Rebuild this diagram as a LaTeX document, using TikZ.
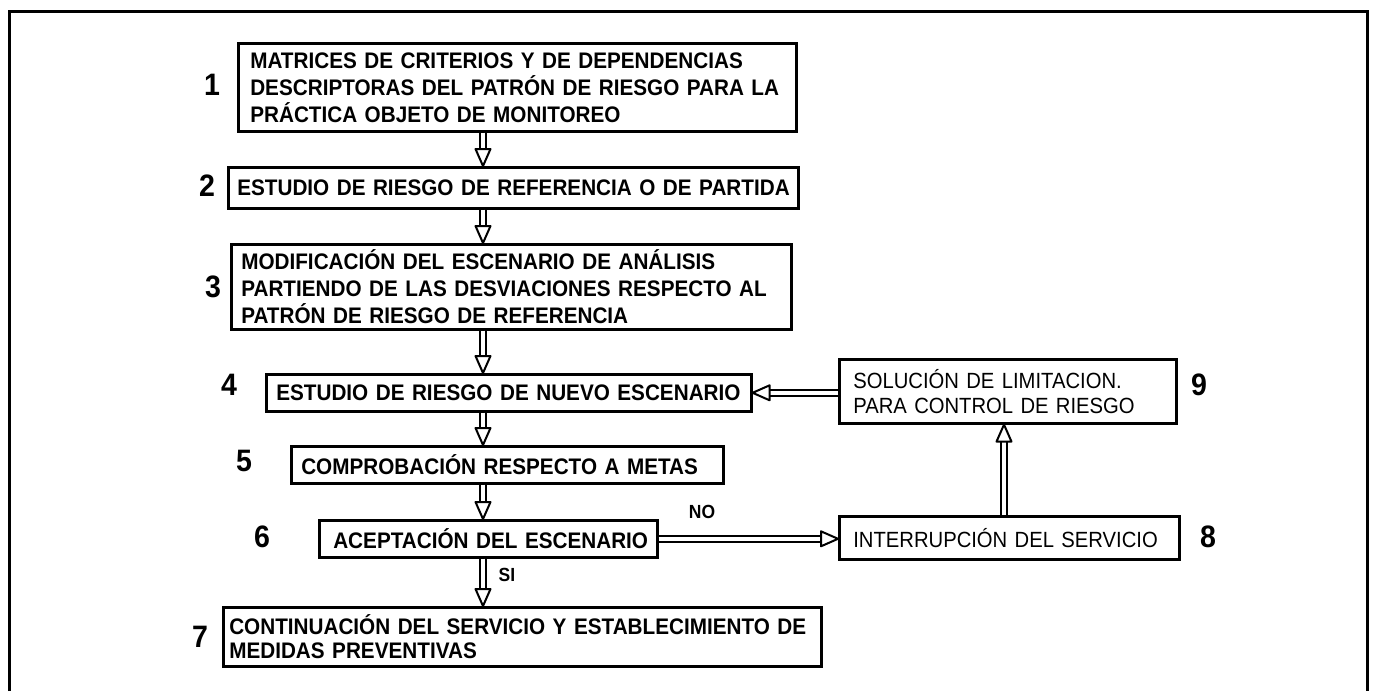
\documentclass[tikz,border=0pt]{standalone}
\usepackage{fontspec}
\setmainfont{Liberation Sans}[FakeStretch=0.92]
\usetikzlibrary{calc}
\newcommand\dblarr[2]{%
  \draw[shaft] (#1) -- ($(#2)!10pt!(#1)$);
  \draw[head] ($(#2)!17pt!(#1)!7.5pt!90:(#2)$) -- (#2) -- ($(#2)!17pt!(#1)!7.5pt!-90:(#2)$) -- cycle;
}
\begin{document}
\begin{tikzpicture}[x=1pt,y=-1pt,
  box/.style={draw=black,line width=2.6pt,rectangle,anchor=north west,align=left,
    font=\fontsize{22.5}{27}\selectfont\bfseries,inner ysep=0pt},
  rbox/.style={box,font=\fontsize{22}{25}\selectfont},
  num/.style={font=\fontsize{31}{33}\selectfont\bfseries},
  lbl/.style={font=\fontsize{19}{20}\selectfont\bfseries},
  shaft/.style={double=white,double distance=4.5pt,line width=2pt},
  head/.style={draw=black,fill=white,line width=2pt,line join=round}]
\useasboundingbox (0,0) rectangle (1373,691);
\draw[line width=3pt] (9,691) -- (9,11) -- (1367,11) -- (1367,691);
% boxes
\node[box,minimum height=88pt,inner xsep=12pt,text width=534pt] (b1) at (237,42)
  {\mbox{MATRICES DE CRITERIOS Y DE DEPENDENCIAS}\\\mbox{DESCRIPTORAS DEL PATRÓN DE RIESGO PARA LA}\\\mbox{PRÁCTICA OBJETO DE MONITOREO}};
\node[box,minimum height=41pt,inner xsep=9pt,text width=552pt] (b2) at (227,166)
  {\mbox{ESTUDIO DE RIESGO DE REFERENCIA O DE PARTIDA}};
\node[box,minimum height=85pt,inner xsep=10pt,text width=540pt] (b3) at (230,243)
  {\mbox{MODIFICACIÓN DEL ESCENARIO DE ANÁLISIS}\\\mbox{PARTIENDO DE LAS DESVIACIONES RESPECTO AL}\\\mbox{PATRÓN DE RIESGO DE REFERENCIA}};
\node[box,minimum height=37pt,inner xsep=10pt,text width=465pt] (b4) at (265,373)
  {\mbox{ESTUDIO DE RIESGO DE NUEVO ESCENARIO}};
\node[rbox,minimum height=64pt,inner xsep=14pt,text width=309pt] (b9) at (838,358)
  {\mbox{SOLUCIÓN DE LIMITACION.}\\\mbox{PARA CONTROL DE RIESGO}};
\node[box,minimum height=37pt,inner xsep=10pt,text width=412pt] (b5) at (290,445)
  {\mbox{COMPROBACIÓN RESPECTO A METAS}};
\node[box,minimum height=37pt,inner xsep=14pt,text width=310pt] (b6) at (318,519)
  {\mbox{ACEPTACIÓN DEL ESCENARIO}};
\node[rbox,minimum height=43pt,inner xsep=14pt,text width=312pt] (b8) at (838,515)
  {\mbox{INTERRUPCIÓN DEL SERVICIO}};
\node[box,minimum height=59pt,inner xsep=6pt,text width=586pt,font=\fontsize{22.5}{24}\selectfont\bfseries] (b7) at (222,606)
  {\mbox{CONTINUACIÓN DEL SERVICIO Y ESTABLECIMIENTO DE}\\\mbox{MEDIDAS PREVENTIVAS}};
% numbers
\node[num] (n1) at (212,85) {1};
\node[num] (n2) at (207,186) {2};
\node[num] (n3) at (213,287) {3};
\node[num] (n4) at (229,385) {4};
\node[num] (n5) at (244,461) {5};
\node[num] (n6) at (262,537) {6};
\node[num] (n7) at (200,637) {7};
\node[num] (n8) at (1208,537) {8};
\node[num] (n9) at (1199,385) {9};
% labels
\node[lbl] (no) at (702,512) {NO};
\node[lbl] (si) at (507,575) {SI};
% arrow end points
\coordinate (ax) at (483,0);
\coordinate (bx) at (1004,0);
\coordinate (a1s) at (b1.south -| ax); \coordinate (a1t) at (b2.north -| ax);
\coordinate (a2s) at (b2.south -| ax); \coordinate (a2t) at (b3.north -| ax);
\coordinate (a3s) at (b3.south -| ax); \coordinate (a3t) at (b4.north -| ax);
\coordinate (a4s) at (b4.south -| ax); \coordinate (a4t) at (b5.north -| ax);
\coordinate (a5s) at (b5.south -| ax); \coordinate (a5t) at (b6.north -| ax);
\coordinate (a6s) at (b6.south -| ax); \coordinate (a6t) at (b7.north -| ax);
\coordinate (a9s) at (b9.west |- b4.east); \coordinate (a9t) at (b4.east);
\coordinate (a8s) at (b6.east); \coordinate (a8t) at (b8.west |- b6.east);
\coordinate (a7s) at (b8.north -| bx); \coordinate (a7t) at (b9.south -| bx);
% arrows
\dblarr{a1s}{a1t}
\dblarr{a2s}{a2t}
\dblarr{a3s}{a3t}
\dblarr{a4s}{a4t}
\dblarr{a5s}{a5t}
\dblarr{a6s}{a6t}
\dblarr{a9s}{a9t}
\dblarr{a8s}{a8t}
\dblarr{a7s}{a7t}
\end{tikzpicture}
\end{document}
